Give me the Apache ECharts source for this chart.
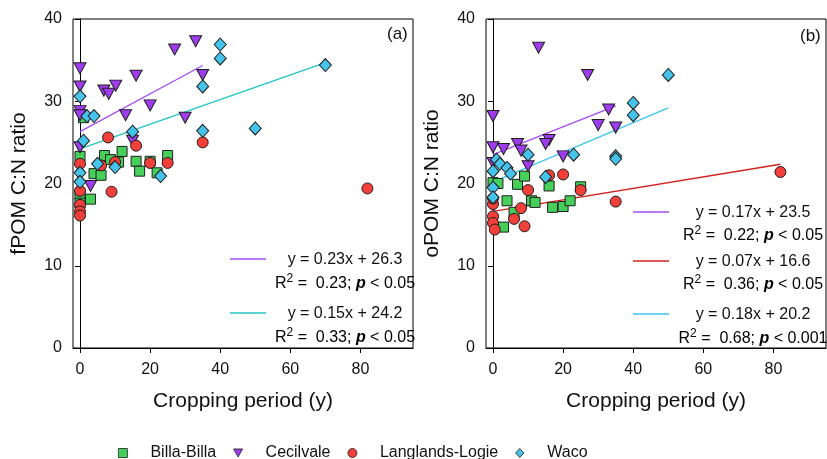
<!DOCTYPE html>
<html>
<head>
<meta charset="utf-8">
<script src="https://cdn.jsdelivr.net/npm/echarts@6/dist/echarts.min.js"></script>
<style>
  html, body { margin: 0; padding: 0; background: #fff; }
  #chart { width: 827px; height: 459px; }
</style>
</head>
<body>
<div id="chart"></div>
<script>
// Axis ticks
const xTicks = [0, 20, 40, 60, 80];
const xRange = [-2, 95];
const yRange = [0, 40];
const yStep = 10;

// Site names (legend order)
const sites = ['Billa-Billa', 'Cecilvale', 'Langlands-Logie', 'Waco'];

// fPOM C:N ratio vs cropping period (y)
const fpomBilla = [[0,23.3],[1,28],[0,18.6],[0,17.6],[3,18.1],[4,21.2],[6,21],[7,23.4],[8.7,22.9],[11,22.6],[12,23.9],[16,22.7],[17,21.5],[20,22.7],[22,21.3],[25,23.4]];
const fpomCecil = [[0,34],[0,31.8],[0,28.8],[0,28.3],[0,24.4],[3,19.7],[6.8,31.3],[8.2,30.9],[10.2,31.9],[13,28.3],[15,25.2],[16,33.1],[20,29.5],[27,36.3],[30,28],[33,37.3],[35,33.2]];
const fpomLangl = [[0,22.4],[0,19.1],[0,17.4],[0,16.6],[0,16.1],[6,22.2],[8,25.6],[9,19],[10,22.6],[16,24.6],[20,22.5],[25,22.5],[35,25],[82,19.4]];
const fpomWaco  = [[0,30.6],[1,25.2],[0,21.3],[0,20.2],[2,28.2],[4,28.2],[5,22.4],[10,22],[15,26.3],[23,20.9],[35,31.8],[35,26.4],[40,36.9],[40,35.2],[50,26.7],[70,34.4]];

// oPOM C:N ratio vs cropping period (y)
const opomBilla = [[0,20.1],[1.4,20],[7,19.9],[9,20.9],[16,19.7],[25,19.6],[4,17.9],[11,17.9],[12,17.7],[17,17.1],[20,17.2],[22,17.9],[6,16.5],[3,14.7]];
const opomCecil = [[0,28.2],[13,36.5],[27,33.2],[33,29],[30,27.1],[35,26.8],[0,24.4],[3,24.2],[7,24.8],[8,24],[16,25.3],[15,24.8],[20,23.3],[10,22.1],[0,22.5]];
const opomLangl = [[82,21.4],[16,21],[20,21.1],[10,19.2],[25,19.2],[0,17.5],[0,18.2],[8,17],[35,17.8],[0,16],[6,15.7],[0,15.2],[0.5,14.4],[9,14.8]];
const opomWaco  = [[50,33.2],[40,29.8],[40,28.3],[10,23.5],[23,23.5],[35,23.3],[35,23],[1,22.9],[2,22.4],[0,21.5],[4,21.9],[5,21.2],[15,20.8],[0,19.5],[0,18.3]];

// Fitted regressions: slope, intercept, x extent, R², p label
const fpomFits = [
  { site: 'Cecilvale', slope: 0.23, intercept: 26.3, from: 0, to: 35, r2: '0.23', p: '0.05' },
  { site: 'Waco',      slope: 0.15, intercept: 24.2, from: 0, to: 70, r2: '0.33', p: '0.05' }
];
const opomFits = [
  { site: 'Cecilvale',       slope: 0.17, intercept: 23.5, from: 0, to: 35, r2: '0.22', p: '0.05' },
  { site: 'Langlands-Logie', slope: 0.07, intercept: 16.6, from: 0, to: 82, r2: '0.36', p: '0.05' },
  { site: 'Waco',            slope: 0.18, intercept: 20.2, from: 0, to: 50, r2: '0.68', p: '0.001' }
];

const FONT = '"Liberation Sans", Arial, sans-serif';
const fill = { 'Billa-Billa': '#45d05a', 'Cecilvale': '#9f3cf0', 'Langlands-Logie': '#f23f3a', 'Waco': '#45c3ea' };
const symbols = { 'Billa-Billa': 'rect', 'Cecilvale': 'path://M0,0L10,0L5,9Z', 'Langlands-Logie': 'circle', 'Waco': 'diamond' };
// legend keys drawn as paths so they keep their aspect inside the legend box
const legendIcons = {
  'Billa-Billa': 'path://M0,0H10V10H0Z',
  'Cecilvale': 'path://M0,0L10,0L5,9Z',
  'Langlands-Logie': 'path://M0,5A5,5,0,1,1,10,5A5,5,0,1,1,0,5Z',
  'Waco': 'path://M5,0L10,5.5L5,11L0,5.5Z'
};
const sizes = { 'Billa-Billa': 10, 'Cecilvale': [12, 11], 'Langlands-Logie': 11, 'Waco': [12, 13] };
const lineColors = [
  { 'Cecilvale': '#a54cf2', 'Waco': '#22c4c6' },
  { 'Cecilvale': '#a54cf2', 'Langlands-Logie': '#d41f1f', 'Waco': '#3ec4f0' }
];

const panels = [
  { name: 'fPOM C:N ratio', tag: '(a)', data: [fpomBilla, fpomCecil, fpomLangl, fpomWaco], fits: fpomFits },
  { name: 'oPOM C:N ratio', tag: '(b)', data: [opomBilla, opomCecil, opomLangl, opomWaco], fits: opomFits }
];

const grids = [
  { left: 73, top: 19, width: 340, height: 329 },
  { left: 486, top: 19, width: 340, height: 329 }
];

const xAxes = [], yAxes = [], series = [], graphics = [];

panels.forEach((p, i) => {
  xAxes.push({
    gridIndex: i, type: 'value', min: xRange[0], max: xRange[1],
    name: 'Cropping period (y)', nameLocation: 'middle', nameGap: 43,
    nameTextStyle: { fontFamily: FONT, fontSize: 21, color: '#111' },
    axisLine: { show: true, onZero: false, lineStyle: { color: '#000', width: 1 } },
    axisTick: { show: true, length: 5, customValues: xTicks, lineStyle: { color: '#000' } },
    axisLabel: { customValues: xTicks, margin: 14, fontFamily: FONT, fontSize: 16, color: '#111' },
    splitLine: { show: false }
  });
  yAxes.push({
    gridIndex: i, type: 'value', min: yRange[0], max: yRange[1], interval: yStep,
    name: p.name, nameLocation: 'middle', nameGap: 43, nameRotate: 90,
    nameTextStyle: { fontFamily: FONT, fontSize: 21, color: '#111' },
    axisLine: { show: true, lineStyle: { color: '#000', width: 1 } },
    axisTick: { show: true, length: 5, lineStyle: { color: '#000' } },
    axisLabel: { margin: 11, fontFamily: FONT, fontSize: 16, color: '#111' },
    splitLine: { show: false }
  });

  // regression lines beneath the markers
  p.fits.forEach(f => {
    series.push({
      type: 'line', xAxisIndex: i, yAxisIndex: i, silent: true, symbol: 'none',
      lineStyle: { color: lineColors[i][f.site], width: 1.3 },
      data: [[f.from, f.intercept + f.slope * f.from], [f.to, f.intercept + f.slope * f.to]],
      z: 1
    });
  });

  sites.forEach((s, k) => {
    series.push({
      name: s, type: 'scatter', xAxisIndex: i, yAxisIndex: i,
      symbol: symbols[s], symbolSize: sizes[s],
      itemStyle: { color: fill[s], borderColor: '#1e1e1e', borderWidth: 1, opacity: 1 },
      data: p.data[k], z: 3
    });
  });
});

// panel tags
graphics.push({ type: 'text', left: 387, top: 26, style: { text: '(a)', font: '17px ' + FONT, fill: '#111' } });
graphics.push({ type: 'text', left: 800, top: 28, style: { text: '(b)', font: '17px ' + FONT, fill: '#111' } });

// regression equations with colour keys
function eqBlock(fit, color, cx, lineX, yEq, yR2) {
  graphics.push({
    type: 'line', shape: { x1: lineX, y1: yEq - 1, x2: lineX + 36, y2: yEq - 1 },
    style: { stroke: color, lineWidth: 1.3 }
  });
  graphics.push({
    type: 'text', x: cx, y: yEq,
    style: {
      text: 'y = ' + fit.slope.toFixed(2) + 'x + ' + fit.intercept.toFixed(1),
      font: '16px ' + FONT, fill: '#111', align: 'center', verticalAlign: 'middle'
    }
  });
  graphics.push({
    type: 'text', x: cx, y: yR2,
    style: {
      text: '{t|R}{s|2}{t| =  ' + fit.r2 + '; }{b|p}{t| < ' + fit.p + '}',
      align: 'center', verticalAlign: 'middle',
      rich: {
        t: { fontFamily: FONT, fontSize: 16, color: '#111', verticalAlign: 'bottom', lineHeight: 18 },
        s: { fontFamily: FONT, fontSize: 12, color: '#111', verticalAlign: 'bottom', lineHeight: 18, padding: [0, 0, 7, 0] },
        b: { fontFamily: FONT, fontSize: 16, color: '#111', fontWeight: 'bold', fontStyle: 'italic', verticalAlign: 'bottom', lineHeight: 18 }
      }
    }
  });
}

eqBlock(fpomFits[0], lineColors[0]['Cecilvale'], 345, 230, 260, 283);
eqBlock(fpomFits[1], lineColors[0]['Waco'], 345, 230, 314, 337);
eqBlock(opomFits[0], lineColors[1]['Cecilvale'], 753, 633, 213, 235);
eqBlock(opomFits[1], lineColors[1]['Langlands-Logie'], 753, 633, 262, 284);
eqBlock(opomFits[2], lineColors[1]['Waco'], 753, 633, 315, 338);

const chart = echarts.init(document.getElementById('chart'), null, { renderer: 'canvas' });
chart.setOption({
  animation: false,
  backgroundColor: '#fff',
  grid: grids.map(g => Object.assign({ show: true, borderColor: '#000', borderWidth: 1, backgroundColor: 'transparent' }, g)),
  xAxis: xAxes,
  yAxis: yAxes,
  legend: {
    left: 113, top: 440, itemGap: 17, itemWidth: 9, itemHeight: 9,
    textStyle: { fontFamily: FONT, fontSize: 16, color: '#111', padding: [0, 0, 0, 18] },
    data: sites.map(s => ({ name: s, icon: legendIcons[s], itemStyle: { color: fill[s], borderColor: '#1e1e1e', borderWidth: 0.8 } }))
  },
  series: series,
  graphic: graphics
});
</script>
</body>
</html>
